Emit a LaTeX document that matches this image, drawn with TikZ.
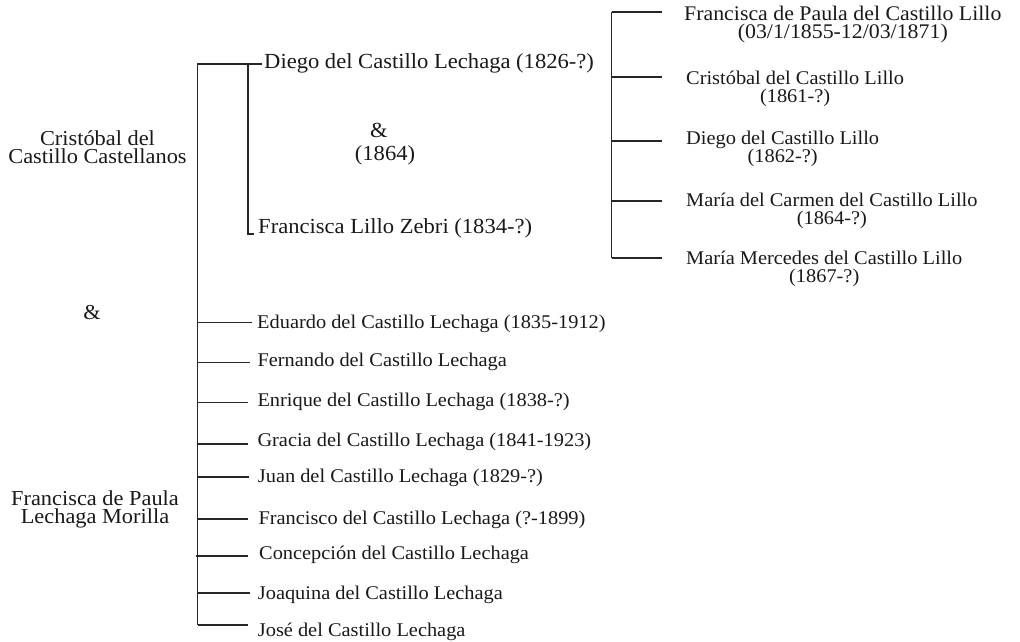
\documentclass[tikz,border=0pt]{standalone}
\usepackage{fontspec}
\setmainfont{Liberation Serif}[FakeStretch=1.05]
\begin{document}
\begin{tikzpicture}[x=1pt,y=-1pt,
  wire/.style={line width=1.2pt, black!85},
  parent/.style={font=\fontsize{21.3}{18}\selectfont, inner sep=0pt, align=center, text=black!90},
  spouse/.style={font=\fontsize{21.5}{18}\selectfont, inner sep=0pt, text=black!90},
  child/.style={font=\fontsize{19.4}{18}\selectfont, inner sep=0pt, text=black!90, anchor=base west},
  grand/.style={font=\fontsize{19.4}{18}\selectfont, inner sep=0pt, align=center, text=black!90, anchor=base west},
  grandtop/.style={font=\fontsize{20.8}{17.5}\selectfont, inner sep=0pt, align=center, text=black!90, anchor=base west}]
\useasboundingbox (0,0) rectangle (1020,642);

% parents (base anchor = baseline of last line)
\node[parent, anchor=base] (cristobal) at (97.5,163) {Cristóbal del\\Castillo Castellanos};
\node[parent, anchor=base] (amp) at (92,319) {\&};
\node[parent, anchor=base] (francisca) at (95,523) {Francisca de Paula\\Lechaga Morilla};

% first son and spouse
\node[spouse, anchor=base west] (diego) at (264,68.3) {Diego del Castillo Lechaga (1826-?)};
\node[spouse, anchor=base west] (lillo) at (258,233) {Francisca Lillo Zebri (1834-?)};
\node[spouse, anchor=base] (amp2) at (379,137) {\&};
\node[spouse, anchor=base] (wed) at (385,160) {(1864)};

% main bus
\coordinate (btop) at (197.5,64);
\coordinate (bbot) at (197.5,625);
\coordinate (dtip) at (261.7,64);
\draw[wire] (bbot) -- (btop) -- (dtip);
\coordinate (itop) at (248,64);
\coordinate (ibot) at (248,234);
\coordinate (ihook) at (254,234);
\draw[wire] (itop) -- (ibot) -- (ihook);

% other children
\node[child] (eduardo) at (257,328.3) {Eduardo del Castillo Lechaga (1835-1912)};
\node[child] (fernando) at (257.3,366.7) {Fernando del Castillo Lechaga};
\node[child] (enrique) at (257.3,406.7) {Enrique del Castillo Lechaga (1838-?)};
\node[child] (gracia) at (257.3,446.7) {Gracia del Castillo Lechaga (1841-1923)};
\node[child] (juan) at (257.7,482.7) {Juan del Castillo Lechaga (1829-?)};
\node[child] (francisco) at (258.3,524) {Francisco del Castillo Lechaga (?-1899)};
\node[child] (concepcion) at (259,559.3) {Concepción del Castillo Lechaga};
\node[child] (joaquina) at (257.7,599.3) {Joaquina del Castillo Lechaga};
\node[child] (jose) at (257.7,636.7) {José del Castillo Lechaga};

\coordinate (b1) at (197.5,322.7); \coordinate (e1) at (252,322.7);
\coordinate (b2) at (197.5,362.7); \coordinate (e2) at (250,362.7);
\coordinate (b3) at (197.5,402.7); \coordinate (e3) at (248,402.7);
\coordinate (b4) at (197.5,444);   \coordinate (e4) at (248,444);
\coordinate (b5) at (197.5,477);   \coordinate (e5) at (249,477);
\coordinate (b6) at (197.5,519);   \coordinate (e6) at (248,519);
\coordinate (b7) at (195.5,556);   \coordinate (e7) at (248,556);
\coordinate (b8) at (197.5,593);   \coordinate (e8) at (250,593);
\coordinate (b9) at (197.5,625);   \coordinate (e9) at (248,625);
\foreach \i in {1,...,9} \draw[wire] (b\i) -- (e\i);

% grandchildren (base anchor = baseline of last line)
\node[grandtop] (g1) at (684,38.5) {Francisca de Paula del Castillo Lillo\\(03/1/1855-12/03/1871)};
\node[grand] (g2) at (686,102.5) {Cristóbal del Castillo Lillo\\(1861-?)};
\node[grand] (g3) at (686,162.5) {Diego del Castillo Lillo\\(1862-?)};
\node[grand] (g4) at (686,224.5) {María del Carmen del Castillo Lillo\\(1864-?)};
\node[grand] (g5) at (686,282.5) {María Mercedes del Castillo Lillo\\(1867-?)};

\coordinate (rtop) at (611.7,12);
\coordinate (rbot) at (611.7,258);
\draw[wire] (rtop) -- (rbot);
\coordinate (r1) at (611.7,12);  \coordinate (s1) at (662,12);
\coordinate (r2) at (611.7,77);  \coordinate (s2) at (662,77);
\coordinate (r3) at (611.7,141); \coordinate (s3) at (662,141);
\coordinate (r4) at (611.7,201); \coordinate (s4) at (662,201);
\coordinate (r5) at (611.7,258); \coordinate (s5) at (662,258);
\foreach \i in {1,...,5} \draw[wire] (r\i) -- (s\i);
\end{tikzpicture}
\end{document}
